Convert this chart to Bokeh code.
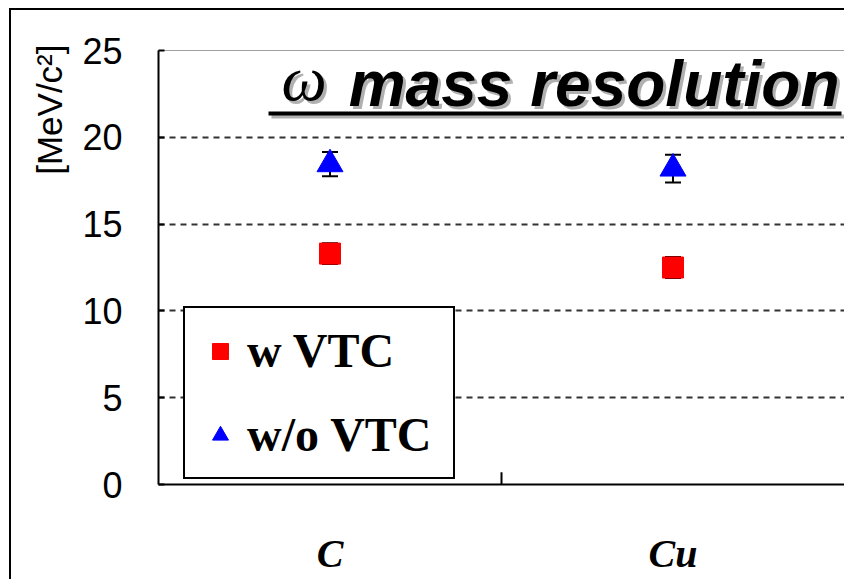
from bokeh.plotting import figure
from bokeh.models import (FactorRange, Range1d, FixedTicker, Label, Whisker,
                          TeeHead, ColumnDataSource, Title)
from bokeh.embed import file_html
from bokeh.resources import INLINE

# ---- data ----
targets = ["C", "Cu"]
w_vtc = [13.3, 12.5]
w_vtc_err = [0.6, 0.6]
wo_vtc = [18.45, 18.2]
wo_vtc_err = [0.7, 0.8]
y_ticks = [0, 5, 10, 15, 20, 25]
grid_ticks = [5, 10, 15, 20]

p = figure(x_range=FactorRange(factors=targets), y_range=Range1d(0, 25),
           width=835, height=571,
           min_border_left=147, min_border_right=2,
           min_border_top=40, min_border_bottom=97,
           output_backend="svg", toolbar_location=None)
p.styles = {"border-top": "2px solid black", "border-left": "2px solid black",
            "margin-left": "9px", "margin-top": "8px"}

p.background_fill_color = "white"
p.border_fill_color = "white"
p.outline_line_color = "#a0a0a0"
p.outline_line_width = 1

# axes
p.yaxis.ticker = FixedTicker(ticks=y_ticks)
p.yaxis.axis_line_color = "black"
p.yaxis.axis_line_width = 2
p.yaxis.major_tick_in = 6
p.yaxis.major_tick_out = 0
p.yaxis.major_tick_line_color = "black"
p.yaxis.major_tick_line_width = 2
p.yaxis.minor_tick_line_color = None
p.yaxis.major_label_text_font = "Liberation Sans"
p.yaxis.major_label_text_font_size = "36px"
p.yaxis.major_label_text_color = "black"
p.yaxis.major_label_standoff = 36

p.xaxis.axis_line_color = "black"
p.xaxis.axis_line_width = 2
p.xaxis.major_tick_line_color = None
p.xaxis.minor_tick_line_color = None
p.xaxis.major_label_text_font = "Liberation Serif"
p.xaxis.major_label_text_font_style = "bold italic"
p.xaxis.major_label_text_font_size = "40px"
p.xaxis.major_label_text_color = "black"
p.xaxis.major_label_standoff = 40

p.xgrid.visible = False
p.ygrid.ticker = FixedTicker(ticks=grid_ticks)
p.ygrid.grid_line_color = "#333333"
p.ygrid.grid_line_width = 2
p.ygrid.grid_line_dash = "6 5"

# y-axis unit label, placed at the top of the left side
p.add_layout(Title(text="[MeV/c²]", align="right", text_font="Liberation Sans",
                   text_font_style="normal", text_font_size="35px",
                   text_color="black", standoff=22, offset=-6), "left")

# category separator tick on bottom axis
p.segment(x0=[1.0], y0=[0], x1=[1.0], y1=[0.7], line_color="black", line_width=2)

# error bars
src_w = ColumnDataSource(dict(x=targets, y=w_vtc,
                              lo=[v - e for v, e in zip(w_vtc, w_vtc_err)],
                              hi=[v + e for v, e in zip(w_vtc, w_vtc_err)]))
src_wo = ColumnDataSource(dict(x=targets, y=wo_vtc,
                               lo=[v - e for v, e in zip(wo_vtc, wo_vtc_err)],
                               hi=[v + e for v, e in zip(wo_vtc, wo_vtc_err)]))
for src in (src_w, src_wo):
    wk = Whisker(source=src, base="x", lower="lo", upper="hi",
                 line_color="black", line_width=2,
                 upper_head=TeeHead(size=16, line_color="black", line_width=2),
                 lower_head=TeeHead(size=16, line_color="black", line_width=2))
    p.add_layout(wk)

p.scatter("x", "y", source=src_w, marker="square", size=21,
          fill_color="#ff0000", line_color="#ff0000", legend_label="w VTC")
p.scatter("x", "y", source=src_wo, marker="triangle", size=26,
          fill_color="#0000ff", line_color="#0000ff", legend_label="w/o VTC")

# legend
lg = p.legend[0]
lg.location = (25, 5)
lg.border_line_color = "black"
lg.border_line_width = 2
lg.border_line_alpha = 1
lg.background_fill_color = "white"
lg.background_fill_alpha = 1
lg.label_text_font = "Liberation Serif"
lg.label_text_font_style = "bold"
lg.label_text_font_size = "48px"
lg.label_text_color = "black"
lg.padding = 15
lg.margin = 0
lg.spacing = 29
lg.glyph_width = 40
lg.glyph_height = 48
lg.label_height = 48
lg.label_standoff = 7
lg.label_width = 191

# title with shadow and underline
def px_x(px):
    return (px - 157) / 343.0

def px_y(py):
    return (484 - py) / 17.36

for dx, dy, col in ((3, 3, "#b0b0b0"), (0, 0, "black")):
    p.add_layout(Label(x=px_x(280 + dx), y=px_y(100 - 22 + dy), text="ω",
                       text_font="Liberation Serif", text_font_style="italic",
                       text_font_size="64px", text_color=col,
                       text_baseline="alphabetic", text_align="left"))
    p.add_layout(Label(x=px_x(838 + dx), y=px_y(105 - 22 + dy), text="mass resolution",
                       text_font="Liberation Sans", text_font_style="bold italic",
                       text_font_size="64px", text_color=col,
                       text_baseline="alphabetic", text_align="right"))
    p.segment(x0=[px_x(267 + dx)], y0=[px_y(113 + dy)],
              x1=[px_x(840 + dx)], y1=[px_y(113 + dy)],
              line_color=col, line_width=4)

open("out.html", "w").write(file_html(p, INLINE))
